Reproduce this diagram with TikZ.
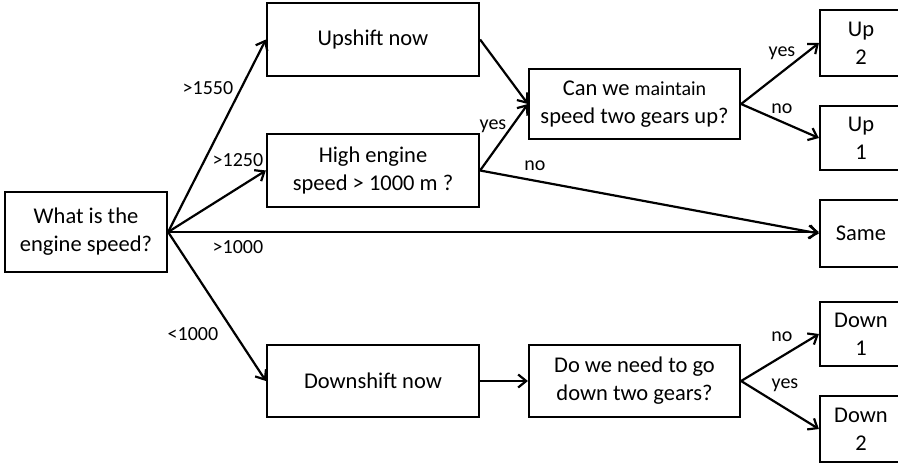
\documentclass[tikz,border=0pt]{standalone}
\usepackage{fontspec}
\setmainfont{Carlito}
\usetikzlibrary{arrows.meta}
\begin{document}
\begin{tikzpicture}[x=1pt,y=-1pt,
  box/.style={draw,line width=2.2pt,align=center,inner sep=0pt,
    font=\fontsize{22.5}{28}\selectfont},
  lbl/.style={inner sep=0pt,font=\fontsize{20}{24}\selectfont},
  conn/.style={line width=2.2pt,-{Straight Barb[length=8pt,width=13pt,line width=2.2pt]}}]
\useasboundingbox (0,0) rectangle (898,464);
\fill[white] (0,0) rectangle (898,464);
\node[box,minimum width=162pt,minimum height=80pt] (what) at (86,232) {What is the\\engine speed?};
\node[box,minimum width=212pt,minimum height=73pt] (up) at (373,39.5) {Upshift now};
\node[box,minimum width=212pt,minimum height=73pt] (high) at (373,170.5) {High engine\\speed > 1000 m ?};
\node[box,minimum width=212pt,minimum height=72pt] (dn) at (373,381) {Downshift now};
\node[box,minimum width=211pt,minimum height=70pt] (can) at (634.5,104) {Can we {\fontsize{20}{24}\selectfont maintain}\\speed two gears up?};
\node[box,minimum width=211pt,minimum height=72pt] (do) at (634.5,381) {Do we need to go\\down two gears?};
\node[box,minimum width=82pt,minimum height=66pt] (up2) at (861,43) {Up\\2};
\node[box,minimum width=82pt,minimum height=64pt] (up1) at (861,138) {Up\\1};
\node[box,minimum width=82pt,minimum height=67pt] (same) at (861,233.5) {Same};
\node[box,minimum width=82pt,minimum height=64pt] (down1) at (861,334) {Down\\1};
\node[box,minimum width=82pt,minimum height=66pt] (down2) at (861,429) {Down\\2};

\draw[conn] (what.east) -- (up.west);
\draw[conn] (what.east) -- (high.west);
\draw[conn] (what.east) -- (what.east -| same.west);
\draw[conn] (what.east) -- (dn.west);
\draw[conn] (up.east) -- (can.west);
\draw[conn] (high.east) -- (can.west);
\draw[conn] (high.east) -- (same.west);
\draw[conn] (can.east) -- (up2.west);
\draw[conn] (can.east) -- (up1.west);
\draw[conn] (dn.east) -- (do.west);
\draw[conn] (do.east) -- (down1.west);
\draw[conn] (do.east) -- (down2.west);

\node[lbl] (l1550) at (208,88) {>1550};
\node[lbl] (l1250) at (238,160) {>1250};
\node[lbl] (l1000) at (238,247) {>1000};
\node[lbl] (lt1000) at (193,334) {<1000};
\node[lbl] (lyes1) at (493,126) {yes};
\node[lbl] (lno1) at (535,166) {no};
\node[lbl] (lyes2) at (782,53) {yes};
\node[lbl] (lno2) at (782,109) {no};
\node[lbl] (lno3) at (782,337) {no};
\node[lbl] (lyes3) at (785,385) {yes};
\end{tikzpicture}
\end{document}
